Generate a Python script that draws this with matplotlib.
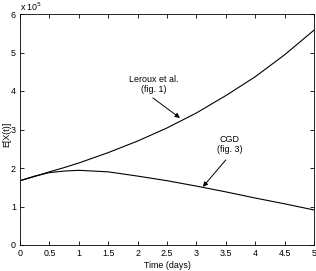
import matplotlib
matplotlib.use('Agg')
import matplotlib.pyplot as plt

plt.rcParams['font.family'] = ['Liberation Sans', 'DejaVu Sans']
plt.rcParams['font.size'] = 6.4

# time in days, E[X(t)] in units of 1e5
t = [0, 0.25, 0.5, 0.75, 1, 1.5, 2, 2.5, 3, 3.5, 4, 4.5, 5]
leroux = [1.67, 1.78, 1.9, 2.01, 2.13, 2.4, 2.7, 3.04, 3.43, 3.88, 4.37, 4.94, 5.58]
cgd = [1.67, 1.79, 1.88, 1.92, 1.94, 1.9, 1.79, 1.67, 1.53, 1.38, 1.22, 1.07, 0.91]
xticks = [0, 0.5, 1, 1.5, 2, 2.5, 3, 3.5, 4, 4.5, 5]
yticks = [0, 1, 2, 3, 4, 5, 6]

fig = plt.figure(figsize=(3.16, 2.71), dpi=100)
ax = fig.add_axes([20/316, 26/271, 294/316, 231/271])
ax.plot(t, leroux, 'k-', lw=0.8)
ax.plot(t, cgd, 'k-', lw=0.8)
ax.set_xlim(0, 5)
ax.set_ylim(0, 6)
ax.set_xticks(xticks)
ax.set_xticklabels(['0', '0.5', '1', '1.5', '2', '2.5', '3', '3.5', '4', '4.5', '5'])
ax.set_yticks(yticks)
ax.tick_params(direction='in', top=True, right=True, length=3, width=0.6, pad=3)
for s in ax.spines.values():
    s.set_linewidth(0.6)
ax.set_xlabel('Time (days)', labelpad=2)
ax.set_ylabel('E[X(t)]', va='center')
ax.yaxis.set_label_coords(-0.046, 0.48)
ax.text(0.0, 6.03, r'x 10$^5$', ha='left', va='bottom')

arrow = dict(arrowstyle='-|>', color='k', lw=0.7, mutation_scale=7, shrinkA=0, shrinkB=0)
ax.text(2.28, 4.16, 'Leroux et al.\n(fig. 1)', ha='center', va='center',
        multialignment='center', linespacing=1.1)
ax.annotate('', xy=(2.72, 3.3), xytext=(2.26, 3.82), arrowprops=arrow)
ax.text(3.57, 2.61, 'CGD\n(fig. 3)', ha='center', va='center',
        multialignment='center', linespacing=1.1)
ax.annotate('', xy=(3.11, 1.51), xytext=(3.5, 2.21), arrowprops=arrow)

fig.savefig('out.png', dpi=100)
